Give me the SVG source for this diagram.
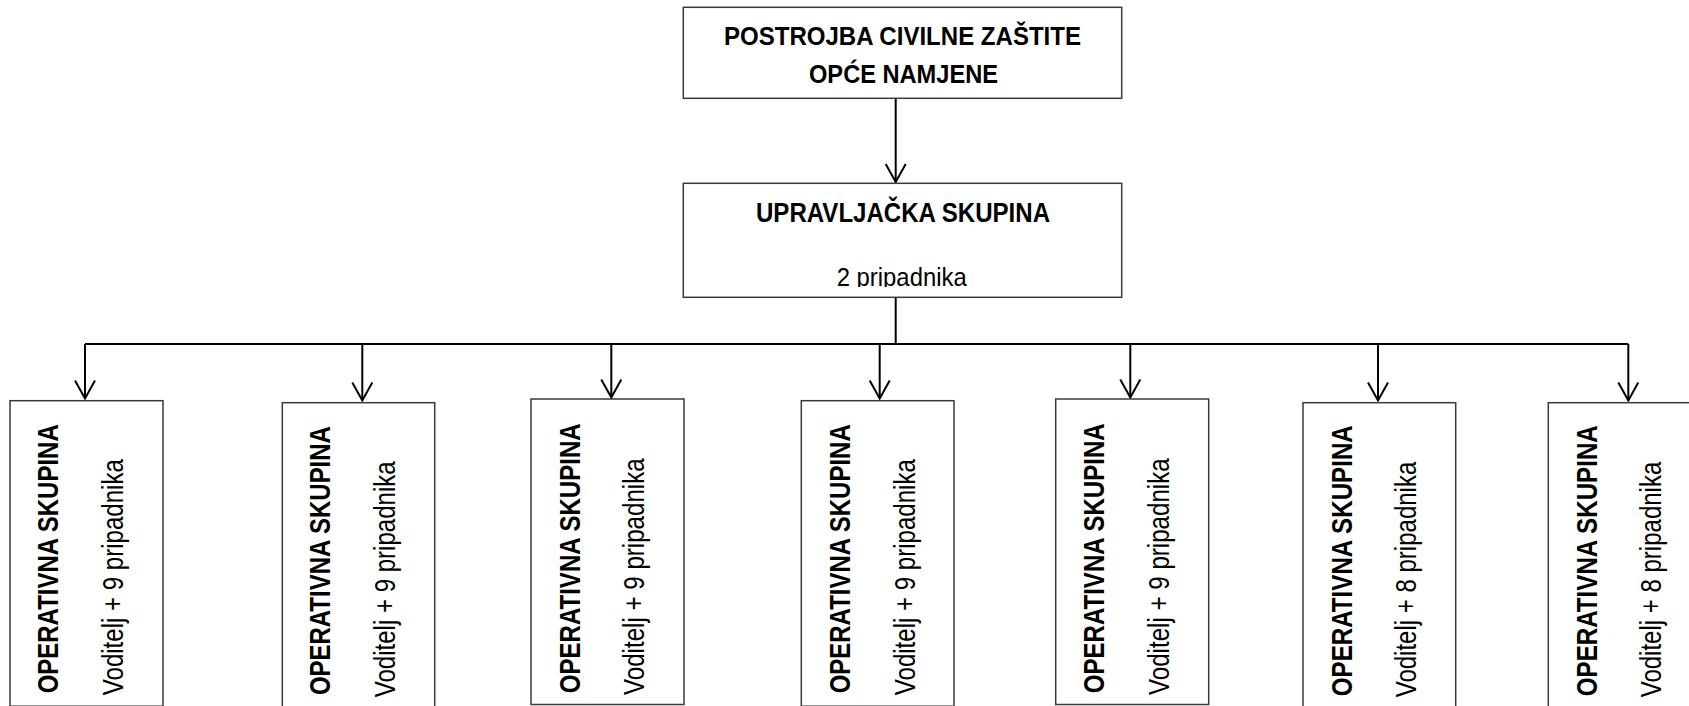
<svg xmlns="http://www.w3.org/2000/svg" width="1689" height="706" viewBox="0 0 1689 706">
  <style>
    .box { fill: #ffffff; stroke: #3a3a3a; stroke-width: 1.5; }
    .conn { fill: none; stroke: #000000; stroke-width: 2; }
    .b { font-family: "Liberation Sans", Arial, sans-serif; font-weight: bold; fill: #000000; }
    .r { font-family: "Liberation Sans", Arial, sans-serif; font-weight: normal; fill: #000000; }
    .vb { font-size: 29px; }
    .vr { font-size: 30px; }
  </style>
  <defs>
    <marker id="arrow" markerUnits="userSpaceOnUse" viewBox="-21 -12 23 24" markerWidth="23" markerHeight="24" refX="0" refY="0" orient="auto" overflow="visible">
      <path d="M-18,-10 L0,0 L-18,10" fill="none" stroke="#000000" stroke-width="2"/>
    </marker>
    <clipPath id="clipUpr">
      <rect x="683" y="183" width="439" height="104"/>
    </clipPath>
  </defs>
  <rect width="1689" height="706" fill="#ffffff"/>

  <g id="connectors">
    <line class="conn" x1="895.7" y1="98.5" x2="895.7" y2="182" marker-end="url(#arrow)"/>
    <line class="conn" x1="895.7" y1="297.5" x2="895.7" y2="344"/>
    <line class="conn" x1="85" y1="344" x2="1628.3" y2="344"/>
    <line class="conn" x1="85" y1="344" x2="85" y2="398.5" marker-end="url(#arrow)"/>
    <line class="conn" x1="362.3" y1="344" x2="362.3" y2="400.5" marker-end="url(#arrow)"/>
    <line class="conn" x1="611.3" y1="344" x2="611.3" y2="397.5" marker-end="url(#arrow)"/>
    <line class="conn" x1="879.7" y1="344" x2="879.7" y2="398.5" marker-end="url(#arrow)"/>
    <line class="conn" x1="1130.3" y1="344" x2="1130.3" y2="397.5" marker-end="url(#arrow)"/>
    <line class="conn" x1="1378" y1="344" x2="1378" y2="400.5" marker-end="url(#arrow)"/>
    <line class="conn" x1="1628.3" y1="344" x2="1628.3" y2="400.5" marker-end="url(#arrow)"/>
  </g>

  <g id="postrojba">
    <rect class="box" x="683.3" y="7.3" width="438.4" height="91"/>
    <text class="b" x="902.5" y="45" font-size="26.5" text-anchor="middle" textLength="357" lengthAdjust="spacingAndGlyphs">POSTROJBA CIVILNE ZAŠTITE</text>
    <text class="b" x="903.5" y="83.3" font-size="26.5" text-anchor="middle" textLength="189" lengthAdjust="spacingAndGlyphs">OPĆE NAMJENE</text>
  </g>

  <g id="upravljacka">
    <rect class="box" x="683.3" y="183.3" width="438.4" height="114"/>
    <text class="b" x="903" y="221.5" font-size="27.5" text-anchor="middle" textLength="294" lengthAdjust="spacingAndGlyphs">UPRAVLJAČKA SKUPINA</text>
    <g clip-path="url(#clipUpr)">
      <text class="r" x="901.7" y="286" font-size="26" text-anchor="middle" textLength="130" lengthAdjust="spacingAndGlyphs">2 pripadnika</text>
    </g>
  </g>

  <g id="op1" transform="translate(10,400.7)">
    <rect class="box" x="0" y="0" width="153" height="305.5"/>
    <text class="b vb" transform="translate(48.3,292.6) rotate(-90)" textLength="269" lengthAdjust="spacingAndGlyphs">OPERATIVNA SKUPINA</text>
    <text class="r vr" transform="translate(113.3,294.5) rotate(-90)" textLength="236" lengthAdjust="spacingAndGlyphs">Voditelj + 9 pripadnika</text>
  </g>

  <g id="op2" transform="translate(282.3,402.7)">
    <rect class="box" x="0" y="0" width="152.4" height="305.5"/>
    <text class="b vb" transform="translate(47.7,292.4) rotate(-90)" textLength="269" lengthAdjust="spacingAndGlyphs">OPERATIVNA SKUPINA</text>
    <text class="r vr" transform="translate(113,294.6) rotate(-90)" textLength="236" lengthAdjust="spacingAndGlyphs">Voditelj + 9 pripadnika</text>
  </g>

  <g id="op3" transform="translate(531,399)">
    <rect class="box" x="0" y="0" width="153" height="305.5"/>
    <text class="b vb" transform="translate(48.7,294.3) rotate(-90)" textLength="270" lengthAdjust="spacingAndGlyphs">OPERATIVNA SKUPINA</text>
    <text class="r vr" transform="translate(113,296) rotate(-90)" textLength="236.7" lengthAdjust="spacingAndGlyphs">Voditelj + 9 pripadnika</text>
  </g>

  <g id="op4" transform="translate(801.3,400.7)">
    <rect class="box" x="0" y="0" width="152.7" height="305.5"/>
    <text class="b vb" transform="translate(48.4,292.6) rotate(-90)" textLength="269" lengthAdjust="spacingAndGlyphs">OPERATIVNA SKUPINA</text>
    <text class="r vr" transform="translate(113.3,294.5) rotate(-90)" textLength="236" lengthAdjust="spacingAndGlyphs">Voditelj + 9 pripadnika</text>
  </g>

  <g id="op5" transform="translate(1055.7,399)">
    <rect class="box" x="0" y="0" width="153" height="305.5"/>
    <text class="b vb" transform="translate(48.7,294.3) rotate(-90)" textLength="270" lengthAdjust="spacingAndGlyphs">OPERATIVNA SKUPINA</text>
    <text class="r vr" transform="translate(113,296) rotate(-90)" textLength="236.7" lengthAdjust="spacingAndGlyphs">Voditelj + 9 pripadnika</text>
  </g>

  <g id="op6" transform="translate(1303,402.7)">
    <rect class="box" x="0" y="0" width="152.7" height="305.5"/>
    <text class="b vb" transform="translate(48.7,293.5) rotate(-90)" textLength="271" lengthAdjust="spacingAndGlyphs">OPERATIVNA SKUPINA</text>
    <text class="r vr" transform="translate(113,294.6) rotate(-90)" textLength="235.6" lengthAdjust="spacingAndGlyphs">Voditelj + 8 pripadnika</text>
  </g>

  <g id="op7" transform="translate(1548.3,402.7)">
    <rect class="box" x="0" y="0" width="153" height="305.5"/>
    <text class="b vb" transform="translate(48.4,293.5) rotate(-90)" textLength="271" lengthAdjust="spacingAndGlyphs">OPERATIVNA SKUPINA</text>
    <text class="r vr" transform="translate(113,294.6) rotate(-90)" textLength="235.6" lengthAdjust="spacingAndGlyphs">Voditelj + 8 pripadnika</text>
  </g>
</svg>
